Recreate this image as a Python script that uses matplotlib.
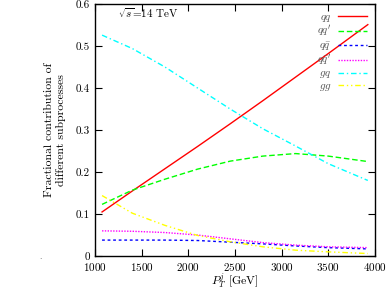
import matplotlib
matplotlib.use("Agg")
import matplotlib.pyplot as plt

plt.rcParams['font.family'] = 'serif'
plt.rcParams['font.serif'] = ['cmr10', 'DejaVu Serif']
plt.rcParams['mathtext.fontset'] = 'cm'
plt.rcParams['axes.formatter.use_mathtext'] = True

# Données
pt = [1075, 1400, 1750, 2100, 2450, 2800, 3150, 3500, 3925]
qq = [0.105, 0.155, 0.208, 0.261, 0.315, 0.370, 0.426, 0.482, 0.551]
qqp = [0.123, 0.157, 0.183, 0.207, 0.226, 0.238, 0.244, 0.238, 0.225]
qqbar = [0.038, 0.038, 0.038, 0.037, 0.033, 0.029, 0.024, 0.020, 0.017]
qqbarp = [0.060, 0.059, 0.056, 0.050, 0.041, 0.032, 0.026, 0.022, 0.020]
gq = [0.526, 0.494, 0.450, 0.400, 0.350, 0.303, 0.262, 0.220, 0.180]
gg = [0.144, 0.102, 0.073, 0.049, 0.034, 0.022, 0.014, 0.010, 0.006]

labels = [r'$qq$', r"$qq'$", r'$q\bar{q}$', r"$q\bar{q}'$", r'$gq$', r'$gg$']
series = [qq, qqp, qqbar, qqbarp, gq, gg]
colors = ['#ff0000', '#00ff00', '#0000ff', '#ff00ff', '#00ffff', '#ffff00']
styles = ['-', (0, (4, 2)), (0, (2, 2)), (0, (1, 1)), (0, (4, 2, 1, 2)), (0, (4, 2, 1, 2, 1, 2))]

fig = plt.figure(figsize=(3.88, 2.89), dpi=100)
ax = fig.add_axes([0.245, 0.114, 0.721, 0.872])

for y, lab, c, ls in zip(series, labels, colors, styles):
    ax.plot(pt, y, color=c, linestyle=ls, linewidth=1.0, label=lab)

ax.set_xlim(1000, 4000)
ax.set_ylim(0, 0.6)
ax.set_xticks([1000, 1500, 2000, 2500, 3000, 3500, 4000])
ax.set_yticks([0, 0.1, 0.2, 0.3, 0.4, 0.5, 0.6])
ax.set_yticklabels(['0', '0.1', '0.2', '0.3', '0.4', '0.5', '0.6'])
ax.tick_params(direction='in', top=True, right=True, labelsize=8, length=5, width=0.8)
for s in ax.spines.values():
    s.set_linewidth(1.0)

ax.set_xlabel(r'$P_T^j$ [GeV]', fontsize=8.5, labelpad=-1)
ax.set_ylabel('Fractional contribution of\ndifferent subprocesses', fontsize=8.5,
              labelpad=7, linespacing=1.25)
ax.text(1250, 0.567, r'$\sqrt{s}$=14 TeV', fontsize=8)

leg = ax.legend(loc='upper right', frameon=False, markerfirst=False, fontsize=8,
                handlelength=2.6, labelspacing=0.05, borderaxespad=0.3, handletextpad=0.6)
for t in leg.get_texts():
    t.set_color('#555555')

fig.text(0.1, 0.105, '.', fontsize=6, color='#555555')

fig.savefig('out.png', dpi=100)
